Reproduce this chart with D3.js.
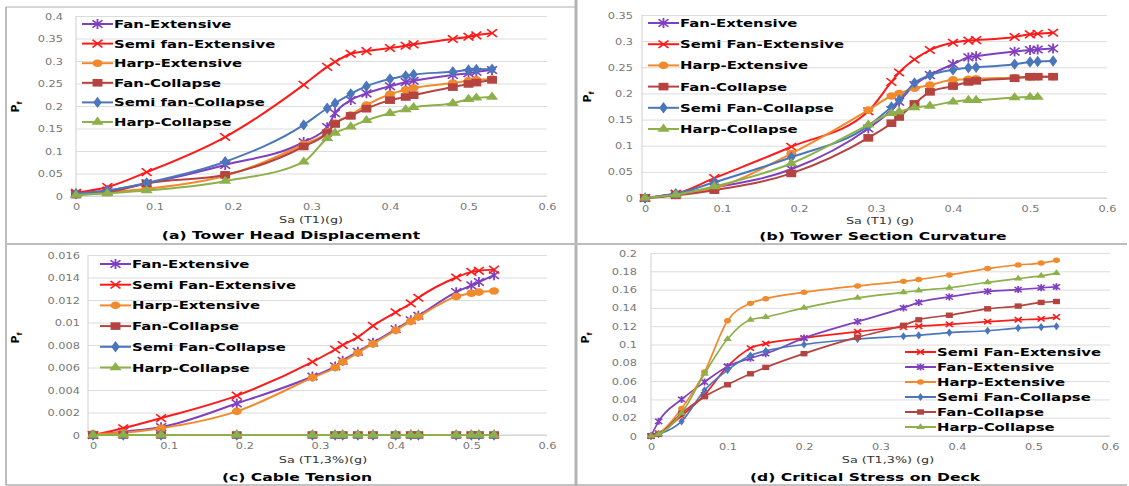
<!DOCTYPE html>
<html>
<head>
<meta charset="utf-8">
<title>Fragility curves</title>
<script src="https://cdn.jsdelivr.net/npm/d3@7/dist/d3.min.js"></script>
<style>
	body { margin: 0; background: #fff; }
	svg { display: block; }
</style>
</head>
<body>
<svg id="fig" width="1129" height="486"></svg>
<script>
// Sa values (g) used for the tower and cable analyses
const xTop = [0, 0.04, 0.09, 0.19, 0.29, 0.32, 0.33, 0.35, 0.37, 0.40, 0.42, 0.43, 0.48, 0.50, 0.51, 0.53];
// Sa values (g) for the deck stress analysis
const xDeck = [0, 0.01, 0.04, 0.07, 0.10, 0.13, 0.15, 0.20, 0.27, 0.33, 0.35, 0.39, 0.44, 0.48, 0.51, 0.53];

const xTicks = [0, 0.1, 0.2, 0.3, 0.4, 0.5, 0.6];
const aTicks = [0, 0.05, 0.1, 0.15, 0.2, 0.25, 0.3, 0.35, 0.4];
const bTicks = [0, 0.05, 0.1, 0.15, 0.2, 0.25, 0.3, 0.35];
const cTicks = [0, 0.002, 0.004, 0.006, 0.008, 0.01, 0.012, 0.014, 0.016];
const dTicks = [0, 0.02, 0.04, 0.06, 0.08, 0.1, 0.12, 0.14, 0.16, 0.18, 0.2];

// (a) tower head displacement
const aFanExt  = [0.005, 0.012, 0.028, 0.069, 0.120, 0.153, 0.184, 0.213, 0.228, 0.244, 0.253, 0.256, 0.269, 0.273, 0.276, 0.280];
const aSemiExt = [0.007, 0.020, 0.053, 0.131, 0.247, 0.287, 0.298, 0.316, 0.322, 0.329, 0.334, 0.337, 0.349, 0.354, 0.357, 0.362];
const aHarpExt = [0.003, 0.008, 0.016, 0.045, 0.115, 0.142, 0.162, 0.180, 0.202, 0.226, 0.236, 0.240, 0.251, 0.256, 0.258, 0.260];
const aFanCol  = [0.003, 0.008, 0.028, 0.047, 0.110, 0.140, 0.160, 0.178, 0.194, 0.213, 0.220, 0.224, 0.242, 0.249, 0.252, 0.258];
const aSemiCol = [0.005, 0.012, 0.029, 0.076, 0.158, 0.195, 0.206, 0.227, 0.244, 0.260, 0.267, 0.270, 0.276, 0.280, 0.281, 0.282];
const aHarpCol = [0.002, 0.006, 0.012, 0.033, 0.076, 0.128, 0.140, 0.154, 0.168, 0.184, 0.192, 0.197, 0.206, 0.215, 0.218, 0.220];

// (b) tower section curvature
const bFanExt  = [0, 0.008, 0.020, 0.055, 0.133, 0.168, 0.184, 0.216, 0.235, 0.256, 0.269, 0.271, 0.280, 0.283, 0.284, 0.286];
const bSemiExt = [0, 0.008, 0.038, 0.098, 0.166, 0.222, 0.240, 0.265, 0.283, 0.297, 0.301, 0.302, 0.308, 0.313, 0.314, 0.316];
const bHarpExt = [0, 0.006, 0.019, 0.085, 0.168, 0.195, 0.200, 0.210, 0.216, 0.226, 0.227, 0.228, 0.230, 0.231, 0.232, 0.232];
const bFanCol  = [0, 0.005, 0.015, 0.047, 0.115, 0.143, 0.155, 0.180, 0.203, 0.214, 0.222, 0.224, 0.229, 0.232, 0.232, 0.232];
const bSemiCol = [0, 0.008, 0.030, 0.078, 0.138, 0.174, 0.187, 0.220, 0.235, 0.245, 0.249, 0.250, 0.256, 0.260, 0.261, 0.262];
const bHarpCol = [0, 0.006, 0.022, 0.066, 0.140, 0.162, 0.165, 0.173, 0.176, 0.184, 0.187, 0.187, 0.192, 0.193, 0.193, null];

// (c) cable tension
const cFanExt  = [0, 0.0003, 0.0007, 0.0028, 0.0052, 0.0061, 0.0066, 0.0074, 0.0082, 0.0094, 0.0102, 0.0106, 0.0127, 0.0133, 0.0136, 0.0142];
const cSemiExt = [0, 0.0006, 0.0015, 0.0035, 0.0065, 0.0076, 0.0080, 0.0087, 0.0097, 0.0109, 0.0117, 0.0122, 0.0140, 0.0145, 0.0146, 0.0147];
const cHarpExt = [0.0001, 0.0002, 0.0006, 0.0021, 0.0051, 0.0060, 0.0065, 0.0073, 0.0081, 0.0093, 0.0101, 0.0105, 0.0123, 0.0126, 0.0127, 0.0128];
const cFanCol  = [0, 0, 0, 0, 0, 0, 0, 0, 0, 0, 0, 0, 0, 0, 0, 0];
const cSemiCol = [0, 0, 0, 0, 0, 0, 0, 0, 0, 0, 0, 0, 0, 0, 0, 0];
const cHarpCol = [0, 0, 0, 0, 0, 0, 0, 0, 0, 0, 0, 0, 0, 0, 0, 0];

// (d) critical stress on deck
const dSemiExt = [0, 0.003, 0.022, 0.045, 0.076, 0.096, 0.101, 0.107, 0.114, 0.119, 0.120, 0.122, 0.125, 0.127, 0.128, 0.130];
const dFanExt  = [0, 0.016, 0.040, 0.059, 0.076, 0.085, 0.090, 0.107, 0.125, 0.140, 0.146, 0.152, 0.158, 0.160, 0.162, 0.163];
const dHarpExt = [0, 0.003, 0.030, 0.070, 0.126, 0.145, 0.150, 0.157, 0.164, 0.169, 0.171, 0.176, 0.183, 0.187, 0.189, 0.192];
const dSemiCol = [0, 0.002, 0.016, 0.050, 0.072, 0.088, 0.093, 0.100, 0.106, 0.109, 0.110, 0.113, 0.115, 0.118, 0.119, 0.120];
const dFanCol  = [0, 0.002, 0.025, 0.043, 0.056, 0.068, 0.075, 0.090, 0.108, 0.121, 0.127, 0.132, 0.139, 0.142, 0.146, 0.147];
const dHarpCol = [0, 0.002, 0.025, 0.068, 0.106, 0.127, 0.130, 0.140, 0.151, 0.157, 0.159, 0.162, 0.168, 0.172, 0.175, 0.178];

const styles = {
	fanExt:  { color: '#7f3fbf', marker: 'star' },
	semiExt: { color: '#ff1a1a', marker: 'x' },
	harpExt: { color: '#f08a2c', marker: 'circle' },
	fanCol:  { color: '#b5433f', marker: 'square' },
	semiCol: { color: '#4a76bb', marker: 'diamond' },
	harpCol: { color: '#8db04a', marker: 'triangle' }
};

const SX = 1.42;   // the original figure is stretched sideways
const FONT = '"DejaVu Sans", Verdana, sans-serif';

const panels = [
	{
		xs: xTop, yMax: 0.4, yTicks: aTicks,
		series: [
			['fanExt', 'Fan-Extensive', aFanExt], ['semiExt', 'Semi fan-Extensive', aSemiExt],
			['harpExt', 'Harp-Extensive', aHarpExt], ['fanCol', 'Fan-Collapse', aFanCol],
			['semiCol', 'Semi fan-Collapse', aSemiCol], ['harpCol', 'Harp-Collapse', aHarpCol]
		],
		axis: 76, x0: 76, x6: 547, y0: 196, yTop: 16, lab: 63, ms: 3.8,
		legend: [82, 24, 19.6], yTitle: [19, 107],
		xTitle: ['Sa (T1)(g)', 311, 223], title: ['(a) Tower Head Displacement', 291, 239]
	},
	{
		xs: xTop, yMax: 0.35, yTicks: bTicks,
		series: [
			['fanExt', 'Fan-Extensive', bFanExt], ['semiExt', 'Semi Fan-Extensive', bSemiExt],
			['harpExt', 'Harp-Extensive', bHarpExt], ['fanCol', 'Fan-Collapse', bFanCol],
			['semiCol', 'Semi Fan-Collapse', bSemiCol], ['harpCol', 'Harp-Collapse', bHarpCol]
		],
		axis: 642, x0: 645, x6: 1107, y0: 198, yTop: 15, lab: 633, ms: 3.8,
		legend: [648, 23, 21.2], yTitle: [591, 97],
		xTitle: ['Sa (T1) (g)', 880, 224], title: ['(b) Tower Section Curvature', 883, 240]
	},
	{
		xs: xTop, yMax: 0.016, yTicks: cTicks,
		series: [
			['fanExt', 'Fan-Extensive', cFanExt], ['semiExt', 'Semi Fan-Extensive', cSemiExt],
			['harpExt', 'Harp-Extensive', cHarpExt], ['fanCol', 'Fan-Collapse', cFanCol],
			['semiCol', 'Semi Fan-Collapse', cSemiCol], ['harpCol', 'Harp-Collapse', cHarpCol]
		],
		axis: 88, x0: 93, x6: 547, y0: 435, yTop: 255, lab: 80, ms: 3.8,
		legend: [100, 264, 20.7], yTitle: [19, 338],
		xTitle: ['Sa (T1,3%)(g)', 323, 463], title: ['(c) Cable Tension', 297, 481]
	},
	{
		xs: xDeck, yMax: 0.2, yTicks: dTicks,
		series: [
			['semiExt', 'Semi Fan-Extensive', dSemiExt], ['fanExt', 'Fan-Extensive', dFanExt],
			['harpExt', 'Harp-Extensive', dHarpExt], ['semiCol', 'Semi Fan-Collapse', dSemiCol],
			['fanCol', 'Fan-Collapse', dFanCol], ['harpCol', 'Harp-Collapse', dHarpCol]
		],
		axis: 651, x0: 651, x6: 1110, y0: 436, yTop: 253, lab: 637, ms: 2.7,
		legend: [905, 352, 15], yTitle: [589, 338],
		xTitle: ['Sa (T1,3%) (g)', 888, 463], title: ['(d) Critical Stress on Deck', 865, 481]
	}
];

const svg = d3.select('#fig');
const fmt = d => String(+d.toFixed(4));

function stretchedText(g, s, x, y, size, opts) {
	opts = opts || {};
	return g.append('text')
		.attr('transform', `translate(${x},${y}) scale(${SX},1)`)
		.attr('font-family', FONT)
		.attr('font-size', size)
		.attr('font-weight', opts.bold ? 'bold' : 'normal')
		.attr('text-anchor', opts.anchor || 'start')
		.attr('fill', opts.fill || '#000')
		.text(s);
}

function markerPath(type, r) {
	if (type === 'x') return `M${-r},${-r}L${r},${r}M${-r},${r}L${r},${-r}`;
	if (type === 'star') return `M${-r},${-r}L${r},${r}M${-r},${r}L${r},${-r}M0,${-r * 1.3}L0,${r * 1.3}`;
	if (type === 'circle') return d3.symbol(d3.symbolCircle, Math.PI * r * r)();
	if (type === 'square') return d3.symbol(d3.symbolSquare, 4 * r * r)();
	if (type === 'diamond') return d3.symbol(d3.symbolDiamond, 2.6 * r * r)();
	return d3.symbol(d3.symbolTriangle, 2.6 * r * r)();
}

function drawMarker(g, type, color, x, y, r) {
	const open = type === 'x' || type === 'star';
	g.append('path')
		.attr('d', markerPath(type, r))
		.attr('transform', `translate(${x},${y}) scale(1.3,1)`)
		.attr('fill', open ? 'none' : color)
		.attr('stroke', open ? color : 'none')
		.attr('stroke-width', 1.4);
}

panels.forEach(p => {
	const g = svg.append('g');
	const x = d3.scaleLinear().domain([0, 0.6]).range([p.x0, p.x6]);
	const y = d3.scaleLinear().domain([0, p.yMax]).range([p.y0, p.yTop]);

	// gridlines + y labels
	const gy = g.append('g')
		.attr('transform', `translate(${p.axis},0)`)
		.call(d3.axisLeft(y).tickValues(p.yTicks).tickSize(-(p.x6 - p.axis)).tickFormat(fmt));
	gy.select('.domain').remove();
	gy.attr('font-family', FONT).attr('font-size', 8);
	gy.selectAll('.tick line').attr('stroke', '#dcdcdc');
	gy.selectAll('.tick text')
		.attr('x', null).attr('dy', null)
		.attr('fill', '#777')
		.attr('transform', `translate(${p.lab - p.axis},3) scale(${SX},1)`);

	// x labels
	const gx = g.append('g')
		.attr('transform', `translate(0,${p.y0})`)
		.call(d3.axisBottom(x).tickValues(xTicks).tickSize(0).tickFormat(fmt));
	gx.select('.domain').remove();
	gx.attr('font-family', FONT).attr('font-size', 8);
	gx.selectAll('.tick text')
		.attr('y', null).attr('dy', null)
		.attr('fill', '#777')
		.attr('transform', `translate(0,14) scale(${SX},1)`);

	// axis lines
	g.append('line').attr('x1', p.axis).attr('x2', p.axis).attr('y1', p.yTop).attr('y2', p.y0)
		.attr('stroke', '#cfcfcf');
	g.append('line').attr('x1', p.axis).attr('x2', p.x6).attr('y1', p.y0).attr('y2', p.y0)
		.attr('stroke', '#cfcfcf');

	// series
	const line = d3.line()
		.defined(d => d[1] != null)
		.x(d => x(d[0]))
		.y(d => y(d[1]))
		.curve(d3.curveMonotoneX);

	p.series.forEach(([key, name, vals]) => {
		const st = styles[key];
		const pts = p.xs.map((v, i) => [v, vals[i]]);
		g.append('path')
			.attr('d', line(pts))
			.attr('fill', 'none')
			.attr('stroke', st.color)
			.attr('stroke-width', p.ms < 3 ? 1.7 : 2);
		pts.filter(d => d[1] != null).forEach(d => drawMarker(g, st.marker, st.color, x(d[0]), y(d[1]), p.ms));
	});

	// legend
	const [lx, ly, ldy] = p.legend;
	p.series.forEach(([key, name], i) => {
		const st = styles[key];
		const yy = ly + i * ldy;
		g.append('line').attr('x1', lx).attr('x2', lx + 31).attr('y1', yy).attr('y2', yy)
			.attr('stroke', st.color).attr('stroke-width', 2);
		drawMarker(g, st.marker, st.color, lx + 15.5, yy, p.ms);
		stretchedText(g, name, lx + 32, yy + 4, 10.5, { bold: true });
	});

	// titles
	const yt = g.append('text')
		.attr('transform', `translate(${p.yTitle[0]},${p.yTitle[1]}) rotate(-90)`)
		.attr('font-family', FONT).attr('font-size', 11).attr('font-weight', 'bold')
		.attr('text-anchor', 'middle');
	yt.append('tspan').text('P');
	yt.append('tspan').attr('font-size', 7).attr('dy', 3).text('f');

	stretchedText(g, p.xTitle[0], p.xTitle[1], p.xTitle[2], 9, { anchor: 'middle', fill: '#333' });
	stretchedText(g, p.title[0], p.title[1], p.title[2], 11, { anchor: 'middle', bold: true });
});

// panel frames
const frame = svg.append('g').attr('fill', 'none');
frame.append('line').attr('x1', 6).attr('x2', 6).attr('y1', 7).attr('y2', 485).attr('stroke', '#a8a8a8').attr('stroke-width', 1.5);
frame.append('line').attr('x1', 6).attr('x2', 575).attr('y1', 7).attr('y2', 7).attr('stroke', '#b0b0b0').attr('stroke-width', 1.2);
frame.append('line').attr('x1', 576).attr('x2', 576).attr('y1', 0).attr('y2', 486).attr('stroke', '#b3b3b3').attr('stroke-width', 3);
frame.append('line').attr('x1', 6).attr('x2', 1127).attr('y1', 244).attr('y2', 244).attr('stroke', '#bdbdbd').attr('stroke-width', 2);
frame.append('line').attr('x1', 6).attr('x2', 1127).attr('y1', 485).attr('y2', 485).attr('stroke', '#b0b0b0').attr('stroke-width', 1.5);
</script>
</body>
</html>
